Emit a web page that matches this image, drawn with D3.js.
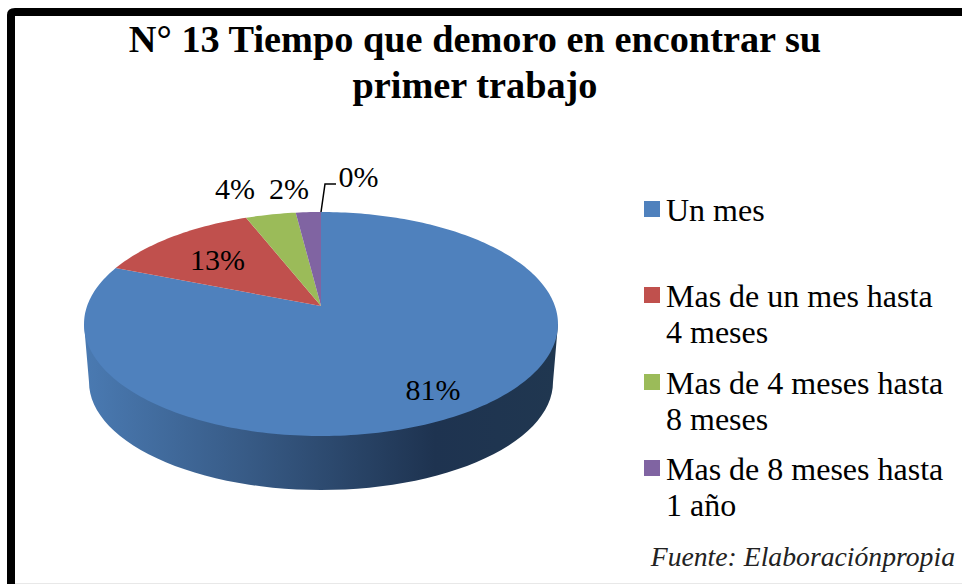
<!DOCTYPE html>
<html>
<head>
<meta charset="utf-8">
<script src="https://cdn.jsdelivr.net/npm/d3@7"></script>
<style>
  html, body { margin: 0; padding: 0; background: #fff; overflow: hidden; }
  text { font-family: "Liberation Serif", serif; fill: #000; }
</style>
</head>
<body>
<div id="chart"></div>
<script>
// chart data
var categories = ["Un mes", "Mas de un mes hasta|4 meses", "Mas de 4 meses hasta|8 meses", "Mas de 8 meses hasta|1 año", "Mas de 1 año"];
var values = [81, 13, 4, 2, 0];
var percentLabels = ["81%", "13%", "4%", "2%", "0%"];
var titleLines = ["N° 13 Tiempo que demoro en encontrar su", "primer trabajo"];
var sourceText = "Fuente: Elaboraciónpropia";
var colors = ["#4f81bd", "#c0504d", "#9bbb59", "#8064a2", "#4bacc6"];

(function (d3) {

    var width = 962, height = 584;
    var svg = d3.select("#chart").append("svg")
                .attr("width", width).attr("height", height)
                .style("display", "block");

    /***** Frame *****/
    svg.append("path")
       .attr("d", "M11,584 V15 Q11,12 15,12 H962")
       .attr("fill", "none").attr("stroke", "#000").attr("stroke-width", 8);
    svg.append("line")
       .attr("x1", 15).attr("x2", 962).attr("y1", 583.5).attr("y2", 583.5)
       .attr("stroke", "#e8e8e8").attr("stroke-width", 1);

    /***** Title *****/
    svg.selectAll(".title").data(titleLines).enter().append("text")
       .attr("class", "title")
       .attr("x", 475)
       .attr("y", function (d, i) { return 52 + i * 46; })
       .attr("text-anchor", "middle")
       .style("font-size", "38.3px").style("font-weight", "bold")
       .text(function (d) { return d; });

    /***** Perspective projection of the pie plane *****/
    var cx = 321, apexY = 306, R = 233.9, S = 109.1, k = 0.1607;
    function project(angle, r) {
        var u = r * Math.sin(angle), v = -r * Math.cos(angle);
        var w = 1 - k * v;
        return [cx + R * u / w, apexY + S * v / w];
    }

    var defs = svg.append("defs");
    var grad = defs.append("linearGradient").attr("id", "wall")
                   .attr("gradientUnits", "userSpaceOnUse")
                   .attr("x1", 84).attr("x2", 558).attr("y1", 0).attr("y2", 0);
    grad.append("stop").attr("offset", 0).attr("stop-color", "#4a7ab2");
    grad.append("stop").attr("offset", 0.35).attr("stop-color", "#375a85");
    grad.append("stop").attr("offset", 0.74).attr("stop-color", "#1e3350");
    grad.append("stop").attr("offset", 1).attr("stop-color", "#203750");

    /***** Side wall *****/
    var line = d3.line();
    var wallTop = 324, wallCy = 382, wallRx = 232, wallRy = 108;
    var wallPts = [[84, wallTop]].concat(d3.range(0, 181, 3).map(function (a) {
        var t = a * Math.PI / 180;
        return [cx - wallRx * Math.cos(t), wallCy + wallRy * Math.sin(t)];
    })).concat([[558, wallTop]]);
    svg.append("path").attr("d", line(wallPts) + "Z").attr("fill", "url(#wall)");

    /***** Pie top *****/
    var pie = d3.pie().sort(null).value(function (d) { return d; });
    var slices = pie(values);

    function slicePath(d) {
        var n = Math.max(2, Math.ceil((d.endAngle - d.startAngle) / 0.02));
        var pts = d3.range(n + 1).map(function (i) {
            return project(d.startAngle + (d.endAngle - d.startAngle) * i / n, 1);
        });
        return line([[cx, apexY]].concat(pts)) + "Z";
    }

    svg.selectAll(".slice").data(slices).enter().append("path")
       .attr("class", "slice")
       .attr("d", slicePath)
       .attr("fill", function (d, i) { return colors[i]; });

    /***** Data labels *****/
    var labelX = [433, 217.5, 235, 289, 358.5];
    var labelY = [400, 270, 199, 199, 187];
    svg.selectAll(".pct").data(percentLabels).enter().append("text")
       .attr("class", "pct")
       .attr("x", function (d, i) { return labelX[i]; })
       .attr("y", function (d, i) { return labelY[i]; })
       .attr("text-anchor", "middle")
       .style("font-size", "30px")
       .text(function (d) { return d; });

    // leader for the 0% slice
    svg.append("path")
       .attr("d", line([project(0, 1), [325, 184], [336, 184]]))
       .attr("fill", "none").attr("stroke", "#000").attr("stroke-width", 1.5);

    /***** Legend *****/
    var legendY = [221, 307, 394, 480];
    var legend = svg.selectAll(".legend").data(categories.slice(0, 4)).enter().append("g")
                    .attr("class", "legend")
                    .attr("transform", function (d, i) { return "translate(0," + legendY[i] + ")"; });
    legend.append("rect")
          .attr("x", 644).attr("y", -20).attr("width", 16).attr("height", 16)
          .attr("fill", function (d, i) { return colors[i]; });
    legend.selectAll("text").data(function (d) { return d.split("|"); }).enter().append("text")
          .attr("x", 666)
          .attr("y", function (d, i) { return i * 36.4; })
          .style("font-size", "32px")
          .text(function (d) { return d; });

    /***** Source *****/
    svg.append("text")
       .attr("x", 955).attr("y", 566)
       .attr("text-anchor", "end")
       .style("font-size", "27.7px").style("font-style", "italic").style("fill", "#222")
       .text(sourceText);

})(d3);
</script>
</body>
</html>
